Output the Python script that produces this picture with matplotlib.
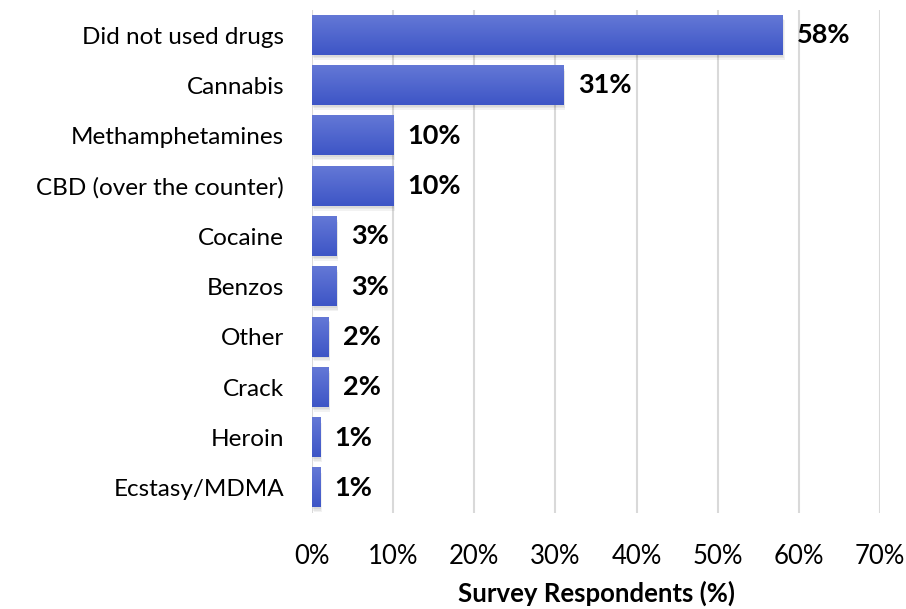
import matplotlib
matplotlib.use("Agg")
import matplotlib.pyplot as plt
import numpy as np
from matplotlib.colors import LinearSegmentedColormap

categories = ["Did not used drugs", "Cannabis", "Methamphetamines", "CBD (over the counter)",
              "Cocaine", "Benzos", "Other", "Crack", "Heroin", "Ecstasy/MDMA"]
values = [58, 31, 10, 10, 3, 3, 2, 2, 1, 1]
xticks = [0, 10, 20, 30, 40, 50, 60, 70]
xlabel = "Survey Respondents (%)"

plt.rcParams['font.family'] = ['Lato', 'DejaVu Sans']

fig = plt.figure(figsize=(9.06, 6.09), dpi=100)
ax = fig.add_axes([0.3444, 0.1576, 0.6269, 0.826])

y = np.arange(len(categories))
bars = ax.barh(y, values, height=0.78, color='#4a62cf', zorder=3)

cmap = LinearSegmentedColormap.from_list('g', ['#6478d6', '#3d55c6'])
grad = np.linspace(0, 1, 64).reshape(-1, 1)
for b in bars:
    x0, y0 = b.get_x(), b.get_y()
    w, h = b.get_width(), b.get_height()
    # soft shadow below-right
    for k in range(3):
        off = 0.15 + 0.12 * k
        ax.add_patch(plt.Rectangle((x0 + off * 0.6, y0 + off * 0.25), w, h, color='#000000',
                                   alpha=0.05, zorder=2, lw=0))
    ax.imshow(grad, cmap=cmap, extent=(x0, x0 + w, y0 + h, y0), aspect='auto', zorder=4,
              interpolation='bicubic')
    ax.text(x0 + w + 1.8, y0 + h / 2, f"{w:.0f}%", va='center', ha='left',
            fontsize=19.5, fontweight='bold', color='#000000', zorder=5)

ax.set_xlim(0, 70)
ax.set_ylim(len(categories) - 0.5, -0.5)
ax.set_yticks(y)
ax.set_yticklabels(categories, fontsize=17.5)
ax.set_xticks(xticks)
ax.set_xticklabels([f"{t}%" for t in xticks], fontsize=18.5)
ax.set_xlabel(xlabel, fontsize=18.5, fontweight='bold', labelpad=9)
ax.tick_params(axis='both', length=0)
ax.tick_params(axis='x', pad=22)
ax.tick_params(axis='y', pad=20)
for s in ax.spines.values():
    s.set_visible(False)
ax.grid(axis='x', color='#d9d9d9', lw=1.5, zorder=0)
ax.set_axisbelow(True)

fig.savefig("out.png", dpi=100)
